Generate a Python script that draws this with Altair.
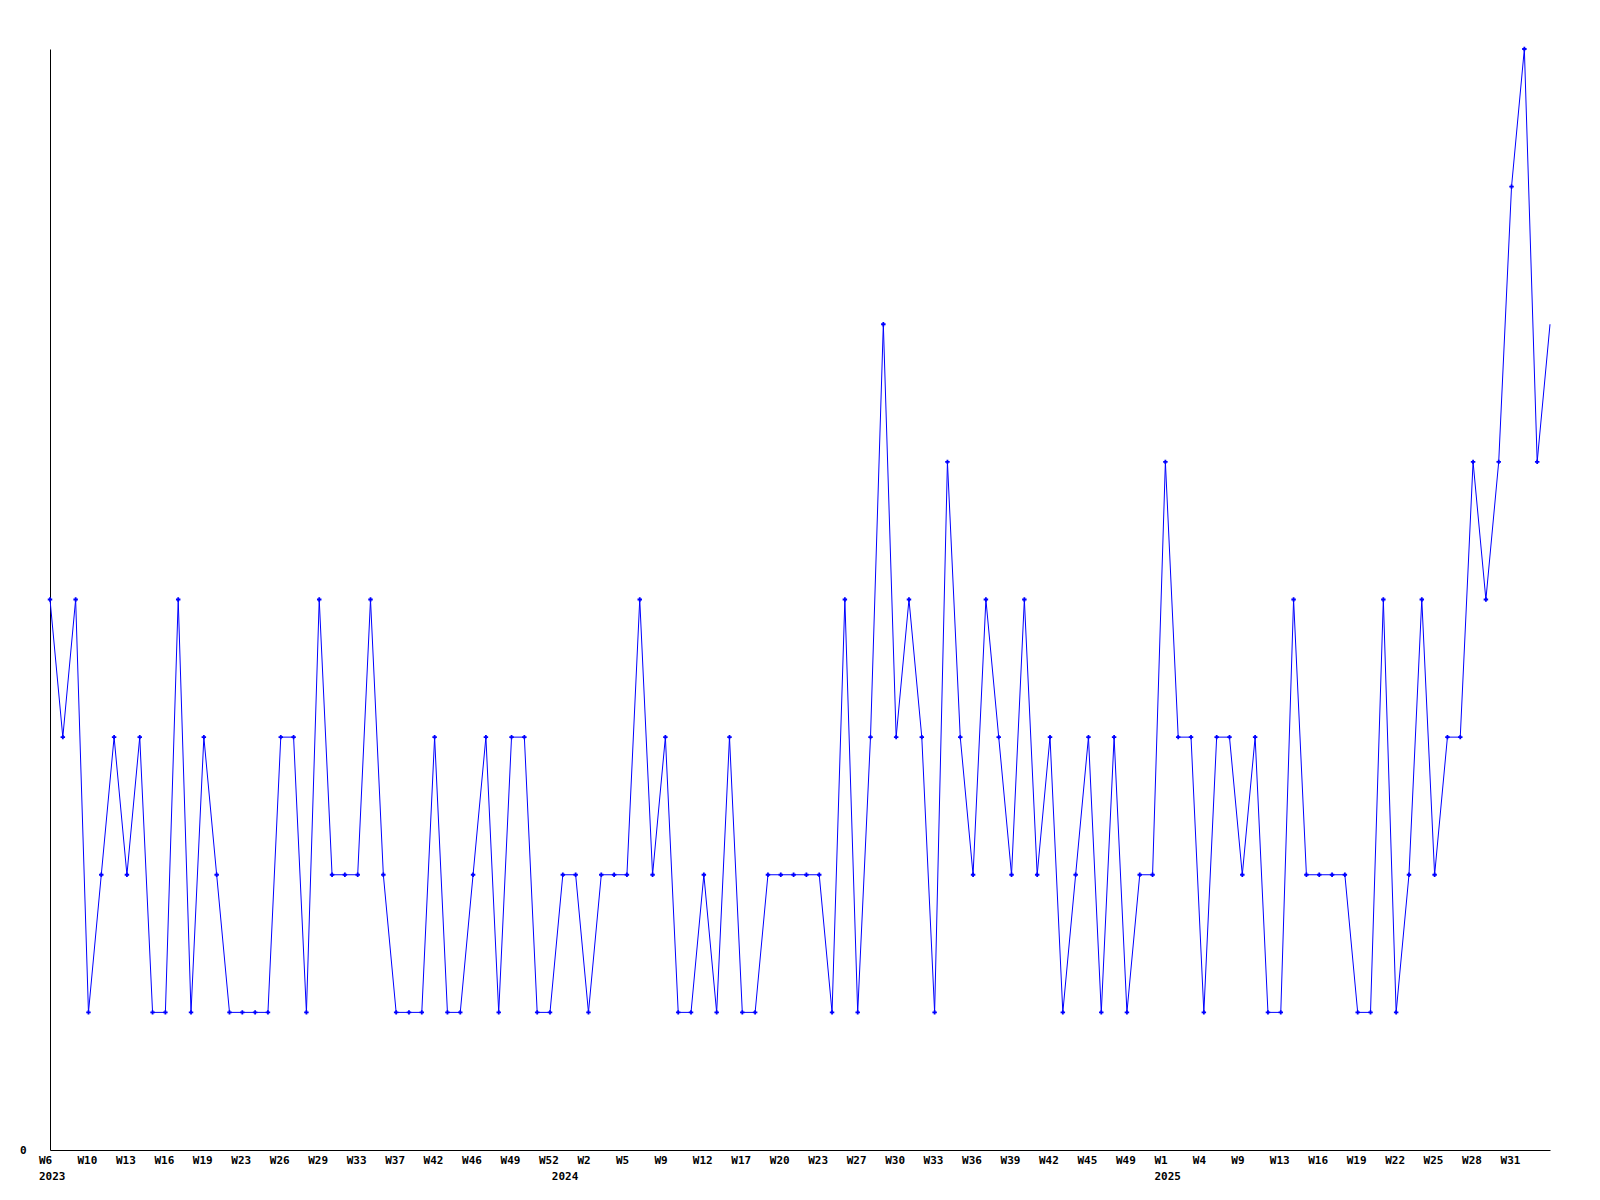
import altair as alt
import pandas as pd

# Weekly values (uniformly spaced points, 118 in total)
values = [
    4, 3, 4, 1, 2, 3, 2, 3, 1, 1,
    4, 1, 3, 2, 1, 1, 1, 1, 3, 3,
    1, 4, 2, 2, 2, 4, 2, 1, 1, 1,
    3, 1, 1, 2, 3, 1, 3, 3, 1, 1,
    2, 2, 1, 2, 2, 2, 4, 2, 3, 1,
    1, 2, 1, 3, 1, 1, 2, 2, 2, 2,
    2, 1, 4, 1, 3, 6, 3, 4, 3, 1,
    5, 3, 2, 4, 3, 2, 4, 2, 3, 1,
    2, 3, 1, 3, 1, 2, 2, 5, 3, 3,
    1, 3, 3, 2, 3, 1, 1, 4, 2, 2,
    2, 2, 1, 1, 4, 1, 2, 4, 2, 3,
    3, 5, 4, 5, 7, 8, 5, 6,
]
index = list(range(len(values)))

# Tick labels, one every third point
tick_labels = [
    "W6", "W10", "W13", "W16", "W19", "W23", "W26", "W29", "W33", "W37",
    "W42", "W46", "W49", "W52", "W2", "W5", "W9", "W12", "W17", "W20",
    "W23", "W27", "W30", "W33", "W36", "W39", "W42", "W45", "W49", "W1",
    "W4", "W9", "W13", "W16", "W19", "W22", "W25", "W28", "W31",
]
tick_positions = [i * 3 for i in range(len(tick_labels))]

# Year labels and the point where each year starts
years = ["2023", "2024", "2025"]
year_positions = [0, 40, 87]

df = pd.DataFrame({"idx": index, "value": values})
df_pts = df[df["idx"] < len(values) - 1]
df_ticks = pd.DataFrame({"idx": tick_positions, "lab": tick_labels})
df_years = pd.DataFrame({"idx": year_positions, "year": years})

FONT = "DejaVu Sans Mono"
W, H = 1500, 1101

x_enc = alt.X(
    "idx:Q",
    scale=alt.Scale(domain=[0, len(values) - 1], nice=False, zero=False),
    axis=alt.Axis(
        values=tick_positions,
        labels=False,
        ticks=False,
        grid=False,
        title=None,
        domainColor="black",
    ),
)
y_enc = alt.Y(
    "value:Q",
    scale=alt.Scale(domain=[0, 8], nice=False),
    axis=alt.Axis(
        values=[0],
        format="d",
        ticks=False,
        grid=False,
        title=None,
        labelPadding=24,
        labelFont=FONT,
        labelFontWeight="bold",
        labelFontSize=11,
        labelColor="black",
        domainColor="black",
    ),
)

line = alt.Chart(df).mark_line(color="#0000ff", strokeWidth=1).encode(x=x_enc, y=y_enc)
pts = alt.Chart(df_pts).mark_point(
    shape="cross", filled=True, size=20, color="#0000ff", opacity=1
).encode(x="idx:Q", y="value:Q")
ticks_txt = alt.Chart(df_ticks).mark_text(
    font=FONT, fontWeight="bold", fontSize=11, color="black",
    align="left", baseline="middle", dx=-11,
).encode(x="idx:Q", y=alt.value(H + 11), text="lab:N")
yr = alt.Chart(df_years).mark_text(
    font=FONT, fontWeight="bold", fontSize=11, color="black",
    align="left", baseline="middle", dx=-11,
).encode(x="idx:Q", y=alt.value(H + 27), text="year:N")

chart = (
    alt.layer(line, pts, ticks_txt, yr)
    .properties(
        width=W,
        height=H,
        autosize=alt.AutoSizeParams(type="none"),
        padding={"left": 42, "top": 41, "right": 30, "bottom": 50},
        background="white",
    )
    .configure_view(stroke=None)
)

chart.save("out.html", embed_options={"renderer": "svg", "actions": False})
